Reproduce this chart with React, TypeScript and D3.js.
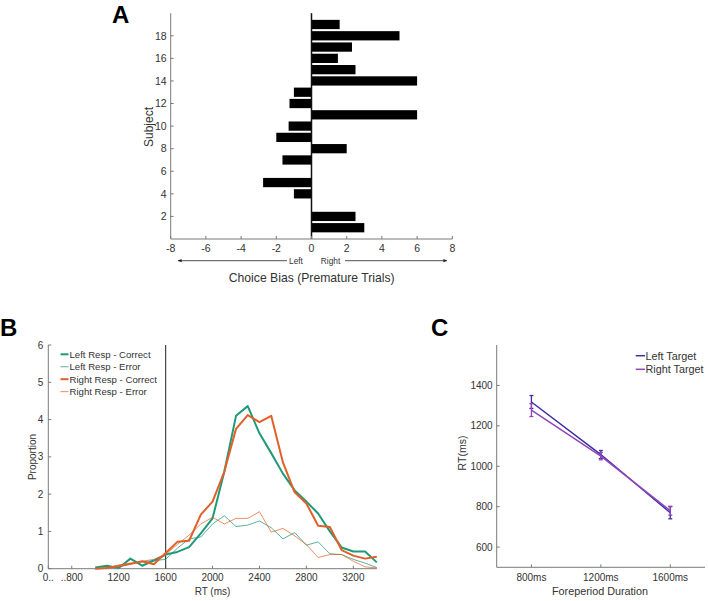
import React from "react";
import * as d3 from "d3";

// ---------- Panel A data ----------
const subjects = [1, 2, 3, 4, 5, 6, 7, 8, 9, 10, 11, 12, 13, 14, 15, 16, 17, 18, 19];
const choiceBias = [3.0, 2.5, 0, -1.0, -2.75, 0, -1.65, 2.0, -2.0, -1.3, 6.0, -1.25, -1.0, 6.0, 2.5, 1.5, 2.3, 5.0, 1.6];
const aXTicks = [-8, -6, -4, -2, 0, 2, 4, 6, 8];
const aYTicks = [2, 4, 6, 8, 10, 12, 14, 16, 18];

// ---------- Panel B data ----------
const rtBins = [1000, 1100, 1200, 1300, 1400, 1500, 1600, 1700, 1800, 1900, 2000, 2100, 2200, 2300, 2400, 2500, 2600, 2700, 2800, 2900, 3000, 3100, 3200, 3300, 3400];
const leftCorrect = [0.03, 0.08, 0.02, 0.27, 0.08, 0.22, 0.38, 0.45, 0.58, 0.95, 1.35, 2.6, 4.1, 4.36, 3.63, 3.1, 2.55, 2.1, 1.8, 1.48, 1.0, 0.57, 0.46, 0.46, 0.17];
const leftError = [0.0, 0.03, 0.05, 0.12, 0.18, 0.22, 0.25, 0.55, 0.8, 0.85, 1.2, 1.42, 1.13, 1.17, 1.28, 1.1, 0.8, 0.97, 0.63, 0.72, 0.4, 0.38, 0.25, 0.15, 0.03];
const rightCorrect = [0.0, 0.02, 0.07, 0.13, 0.2, 0.12, 0.42, 0.72, 0.75, 1.45, 1.8, 2.6, 3.75, 4.12, 3.93, 4.1, 2.85, 2.05, 1.75, 1.15, 1.12, 0.5, 0.35, 0.27, 0.32];
const rightError = [0.0, 0.02, 0.1, 0.15, 0.2, 0.25, 0.38, 0.65, 0.9, 1.2, 1.38, 1.2, 1.35, 1.35, 1.53, 0.98, 1.08, 0.88, 0.65, 0.3, 0.38, 0.38, 0.2, 0.05, 0.02];
const bXTicks = [600, 800, 1200, 1600, 2000, 2400, 2800, 3200];
const bXTickLabels = ["0..", "..800", "1200", "1600", "2000", "2400", "2800", "3200"];
const bYTicks = [0, 1, 2, 3, 4, 5, 6];
const bLegend = ["Left Resp - Correct", "Left Resp - Error", "Right Resp - Correct", "Right Resp - Error"];
const foreperiodMarker = 1600;

// ---------- Panel C data ----------
const foreperiods = ["800ms", "1200ms", "1600ms"];
const leftTargetRT = [1318, 1058, 770];
const leftTargetErr = [32, 20, 30];
const rightTargetRT = [1278, 1050, 780];
const rightTargetErr = [32, 18, 22];
const cYTicks = [600, 800, 1000, 1200, 1400];
const cLegend = ["Left Target", "Right Target"];

const FONT = "'Liberation Sans', Arial, sans-serif";
const AXIS = "#7a7a7a";
const TXT = "#333333";
const TEAL = "#1f9a78";
const ORANGE = "#e0602a";
const BLUE = "#3b2ea6";
const PURPLE = "#9246b8";

export default function App() {
  // Panel A scales
  const xA = d3.scaleLinear().domain([-8, 8]).range([170.7, 452.3]);
  const yA = d3.scaleLinear().domain([0, 20]).range([239, 13.2]);
  const barH = yA(0) - yA(0.82);

  // Panel B scales
  const xB = d3.scaleLinear().domain([600, 3400]).range([48.3, 376.8]);
  const yB = d3.scaleLinear().domain([0, 6]).range([568.7, 345]);
  const lineB = d3
    .line<number>()
    .x((_, i) => xB(rtBins[i]))
    .y((d) => yB(d));
  const bSeries = [
    { vals: leftCorrect, color: TEAL, w: 2, op: 1 },
    { vals: leftError, color: TEAL, w: 1, op: 0.75 },
    { vals: rightCorrect, color: ORANGE, w: 2, op: 1 },
    { vals: rightError, color: ORANGE, w: 1, op: 0.7 },
  ];

  // Panel C scales
  const xC = d3.scaleLinear().domain([0.5, 3.5]).range([496.7, 705]);
  const yC = d3.scaleLinear().domain([500, 1600]).range([567.3, 345]);
  const lineC = d3
    .line<number>()
    .x((_, i) => xC(i + 1))
    .y((d) => yC(d));
  const cSeries = [
    { vals: leftTargetRT, err: leftTargetErr, color: BLUE },
    { vals: rightTargetRT, err: rightTargetErr, color: PURPLE },
  ];

  return (
    <svg width={708} height={601} style={{ position: "absolute", left: 0, top: 0, background: "#fff" }} fontFamily={FONT}>
      <rect x={0} y={0} width={708} height={601} fill="#fff" />
      <defs>
        <marker id="arr" viewBox="0 0 10 10" refX="9" refY="5" markerWidth="5" markerHeight="5" orient="auto-start-reverse">
          <path d="M0,1 L10,5 L0,9 z" fill="#222" />
        </marker>
      </defs>

      {/* ================= Panel A ================= */}
      <text x={112} y={22.5} fontSize={24} fontWeight="bold" fill="#000">A</text>
      {subjects.map((s, i) => {
        const v = choiceBias[i];
        if (v === 0) return null;
        const x0 = xA(Math.min(0, v));
        const x1 = xA(Math.max(0, v));
        return <rect key={s} x={x0} y={yA(s) - barH / 2} width={x1 - x0} height={barH} fill="#000" />;
      })}
      <line x1={xA(0)} x2={xA(0)} y1={yA(20)} y2={yA(0)} stroke="#111" strokeWidth={1.5} />
      {/* axes */}
      <line x1={xA(-8)} x2={xA(-8)} y1={yA(20)} y2={yA(0)} stroke={AXIS} strokeWidth={1} />
      <line x1={xA(-8)} x2={xA(8)} y1={yA(0)} y2={yA(0)} stroke={AXIS} strokeWidth={1} />
      {aYTicks.map((t) => (
        <g key={t}>
          <line x1={xA(-8)} x2={xA(-8) + 3} y1={yA(t)} y2={yA(t)} stroke={AXIS} />
          <text x={xA(-8) - 4} y={yA(t) + 3.8} fontSize={10.5} textAnchor="end" fill={TXT}>{t}</text>
        </g>
      ))}
      {aXTicks.map((t) => (
        <g key={t}>
          <line x1={xA(t)} x2={xA(t)} y1={yA(0)} y2={yA(0) - 3} stroke={AXIS} />
          <text x={xA(t)} y={yA(0) + 13} fontSize={10.5} textAnchor="middle" fill={TXT}>{t}</text>
        </g>
      ))}
      <text transform={`translate(${153},${127}) rotate(-90)`} fontSize={12} textAnchor="middle" fill={TXT}>Subject</text>
      <line x1={287} x2={178} y1={260.7} y2={260.7} stroke="#222" strokeWidth={0.8} markerEnd="url(#arr)" />
      <line x1={345} x2={447} y1={260.7} y2={260.7} stroke="#222" strokeWidth={0.8} markerEnd="url(#arr)" />
      <text x={296} y={263.5} fontSize={8.3} textAnchor="middle" fill={TXT}>Left</text>
      <text x={330.5} y={263.5} fontSize={8.3} textAnchor="middle" fill={TXT}>Right</text>
      <text x={311.7} y={282} fontSize={12.2} textAnchor="middle" fill={TXT}>Choice Bias (Premature Trials)</text>

      {/* ================= Panel B ================= */}
      <text x={0} y={335.5} fontSize={24} fontWeight="bold" fill="#000">B</text>
      <line x1={xB(600)} x2={xB(600)} y1={yB(6)} y2={yB(0)} stroke={AXIS} />
      <line x1={xB(600)} x2={xB(3400)} y1={yB(0)} y2={yB(0)} stroke={AXIS} />
      {bYTicks.map((t) => (
        <g key={t}>
          <line x1={xB(600)} x2={xB(600) + 3} y1={yB(t)} y2={yB(t)} stroke={AXIS} />
          <text x={xB(600) - 5} y={yB(t) + 3.6} fontSize={10} textAnchor="end" fill={TXT}>{t}</text>
        </g>
      ))}
      {bXTicks.map((t, i) => (
        <g key={t}>
          <line x1={xB(t)} x2={xB(t)} y1={yB(0)} y2={yB(0) - 3} stroke={AXIS} />
          <text x={xB(t)} y={yB(0) + 12.5} fontSize={10} textAnchor="middle" fill={TXT}>{bXTickLabels[i]}</text>
        </g>
      ))}
      <line x1={xB(foreperiodMarker)} x2={xB(foreperiodMarker)} y1={yB(6)} y2={yB(0)} stroke="#444" strokeWidth={1.2} />
      {bSeries.map((s, i) => (
        <path key={i} d={lineB(s.vals) || ""} fill="none" stroke={s.color} strokeWidth={s.w} strokeOpacity={s.op} strokeLinejoin="round" />
      ))}
      {bLegend.map((lab, i) => {
        const y = 354.3 + i * 12.45;
        return (
          <g key={lab}>
            <line x1={60.5} x2={68.5} y1={y} y2={y} stroke={bSeries[i].color} strokeWidth={bSeries[i].w} strokeOpacity={bSeries[i].op} />
            <text x={69.5} y={y + 3.5} fontSize={9.6} fill={TXT}>{lab}</text>
          </g>
        );
      })}
      <text transform={`translate(${36},${457}) rotate(-90)`} fontSize={10} textAnchor="middle" fill={TXT}>Proportion</text>
      <text x={212.5} y={595} fontSize={10} textAnchor="middle" fill={TXT}>RT (ms)</text>

      {/* ================= Panel C ================= */}
      <text x={431} y={335.5} fontSize={24} fontWeight="bold" fill="#000">C</text>
      <line x1={xC(0.5)} x2={xC(0.5)} y1={yC(1600)} y2={yC(500)} stroke={AXIS} />
      <line x1={xC(0.5)} x2={xC(3.5)} y1={yC(500)} y2={yC(500)} stroke={AXIS} />
      {cYTicks.map((t) => (
        <g key={t}>
          <line x1={xC(0.5)} x2={xC(0.5) + 3} y1={yC(t)} y2={yC(t)} stroke={AXIS} />
          <text x={xC(0.5) - 4} y={yC(t) + 3.6} fontSize={10} textAnchor="end" fill={TXT}>{t}</text>
        </g>
      ))}
      {foreperiods.map((f, i) => (
        <g key={f}>
          <line x1={xC(i + 1)} x2={xC(i + 1)} y1={yC(500)} y2={yC(500) - 3} stroke={AXIS} />
          <text x={xC(i + 1)} y={yC(500) + 14} fontSize={10} textAnchor="middle" fill={TXT}>{f}</text>
        </g>
      ))}
      {cSeries.map((s, si) => (
        <g key={si}>
          <path d={lineC(s.vals) || ""} fill="none" stroke={s.color} strokeWidth={1.5} />
          {s.vals.map((v, i) => {
            const x = xC(i + 1);
            return (
              <g key={i} stroke={s.color} strokeWidth={1.3}>
                <line x1={x} x2={x} y1={yC(v - s.err[i])} y2={yC(v + s.err[i])} />
                <line x1={x - 2} x2={x + 2} y1={yC(v - s.err[i])} y2={yC(v - s.err[i])} />
                <line x1={x - 2} x2={x + 2} y1={yC(v + s.err[i])} y2={yC(v + s.err[i])} />
              </g>
            );
          })}
        </g>
      ))}
      {cLegend.map((lab, i) => {
        const y = 355.7 + i * 13.6;
        return (
          <g key={lab}>
            <line x1={635.7} x2={645} y1={y} y2={y} stroke={cSeries[i].color} strokeWidth={1.5} />
            <text x={645.5} y={y + 3.8} fontSize={10.8} fill={TXT}>{lab}</text>
          </g>
        );
      })}
      <text transform={`translate(${466},${453}) rotate(-90)`} fontSize={10.5} textAnchor="middle" fill={TXT}>RT(ms)</text>
      <text x={600} y={595} fontSize={10.8} textAnchor="middle" fill={TXT}>Foreperiod Duration</text>
    </svg>
  );
}
